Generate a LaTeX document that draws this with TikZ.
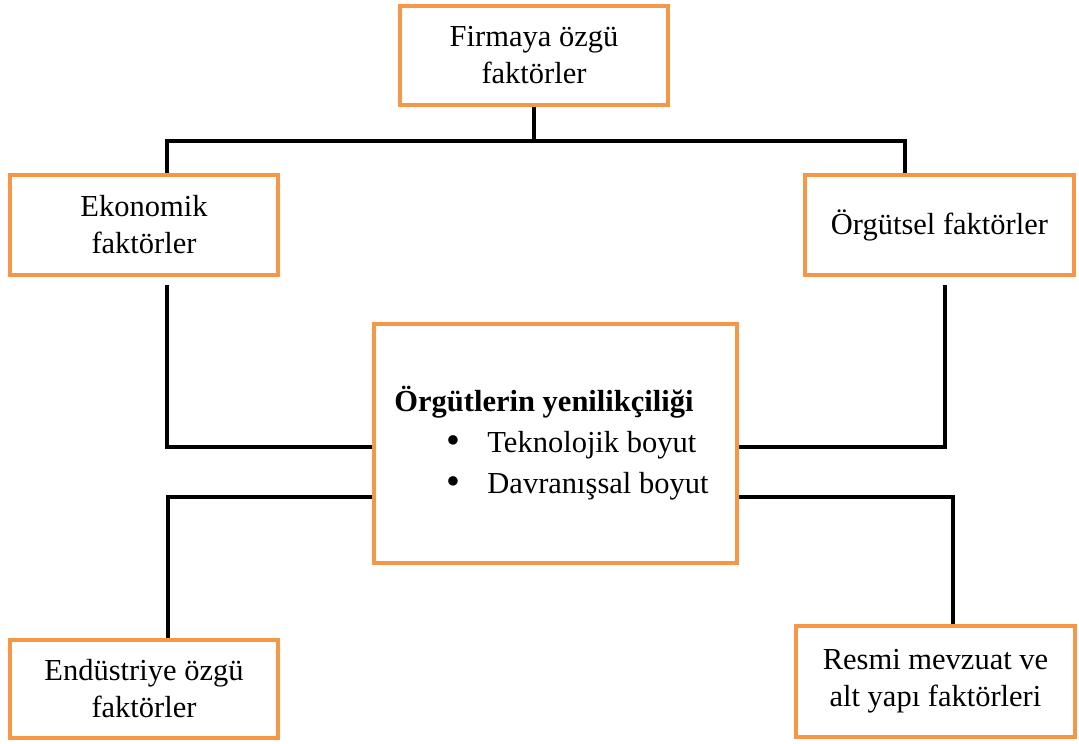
\documentclass[tikz,border=0pt]{standalone}
\usepackage{fontspec}
\setmainfont{Liberation Serif}
\definecolor{boxorange}{HTML}{F79646}
\begin{document}
\begin{tikzpicture}[x=1pt,y=-1pt,
  fbox/.style={draw=boxorange, line width=4pt, fill=white, align=center, inner sep=0pt,
    font=\fontsize{30.5}{37}\selectfont},
  conn/.style={draw=black, line width=4pt}]
\useasboundingbox (0,0) rectangle (1079,744);
\node[fbox, minimum width=268pt, minimum height=99pt] (top) at (534,55.5) {Firmaya özgü\\faktörler};
\node[fbox, minimum width=268pt, minimum height=100pt] (eko) at (144,225) {Ekonomik\\faktörler};
\node[fbox, minimum width=269pt, minimum height=100pt] (org) at (939.5,225) {Örgütsel faktörler};
\node[fbox, minimum width=363pt, minimum height=239pt] (cen) at (555.5,443.5) {};
\node[align=left, inner sep=0pt, font=\fontsize{30.5}{41}\selectfont] (centext) at (551.5,443)
  {\textbf{Örgütlerin yenilikçiliği}\\
   \hspace*{52pt}\makebox[41pt][l]{\raisebox{-1pt}{\scalebox{1.3}{\textbullet}}}Teknolojik boyut\\
   \hspace*{52pt}\makebox[41pt][l]{\raisebox{-1pt}{\scalebox{1.3}{\textbullet}}}Davranışsal boyut};
\node[fbox, minimum width=268pt, minimum height=98pt] (end) at (144,689) {Endüstriye özgü\\faktörler};
\node[fbox, minimum width=279pt, minimum height=111pt] (res) at (935.5,681.5) {Resmi mevzuat ve\\alt yapı faktörleri};
% junctions
\coordinate (j) at (534,141);
\coordinate (ekoS) at (167,285);
\coordinate (orgS) at (945,285);
\draw[conn] (top.south) -- (j);
\draw[conn] (j) -| ([xshift=23pt]eko.north);
\draw[conn] (j) -| ([xshift=-34.5pt]org.north);
\draw[conn] (ekoS) |- ([yshift=-3.5pt]cen.west);
\draw[conn] (orgS) |- ([yshift=-3.5pt]cen.east);
\draw[conn] ([yshift=-53.5pt]cen.west) -| ([xshift=24pt]end.north);
\draw[conn] ([yshift=-53.5pt]cen.east) -| ([xshift=17.5pt]res.north);
\end{tikzpicture}
\end{document}
